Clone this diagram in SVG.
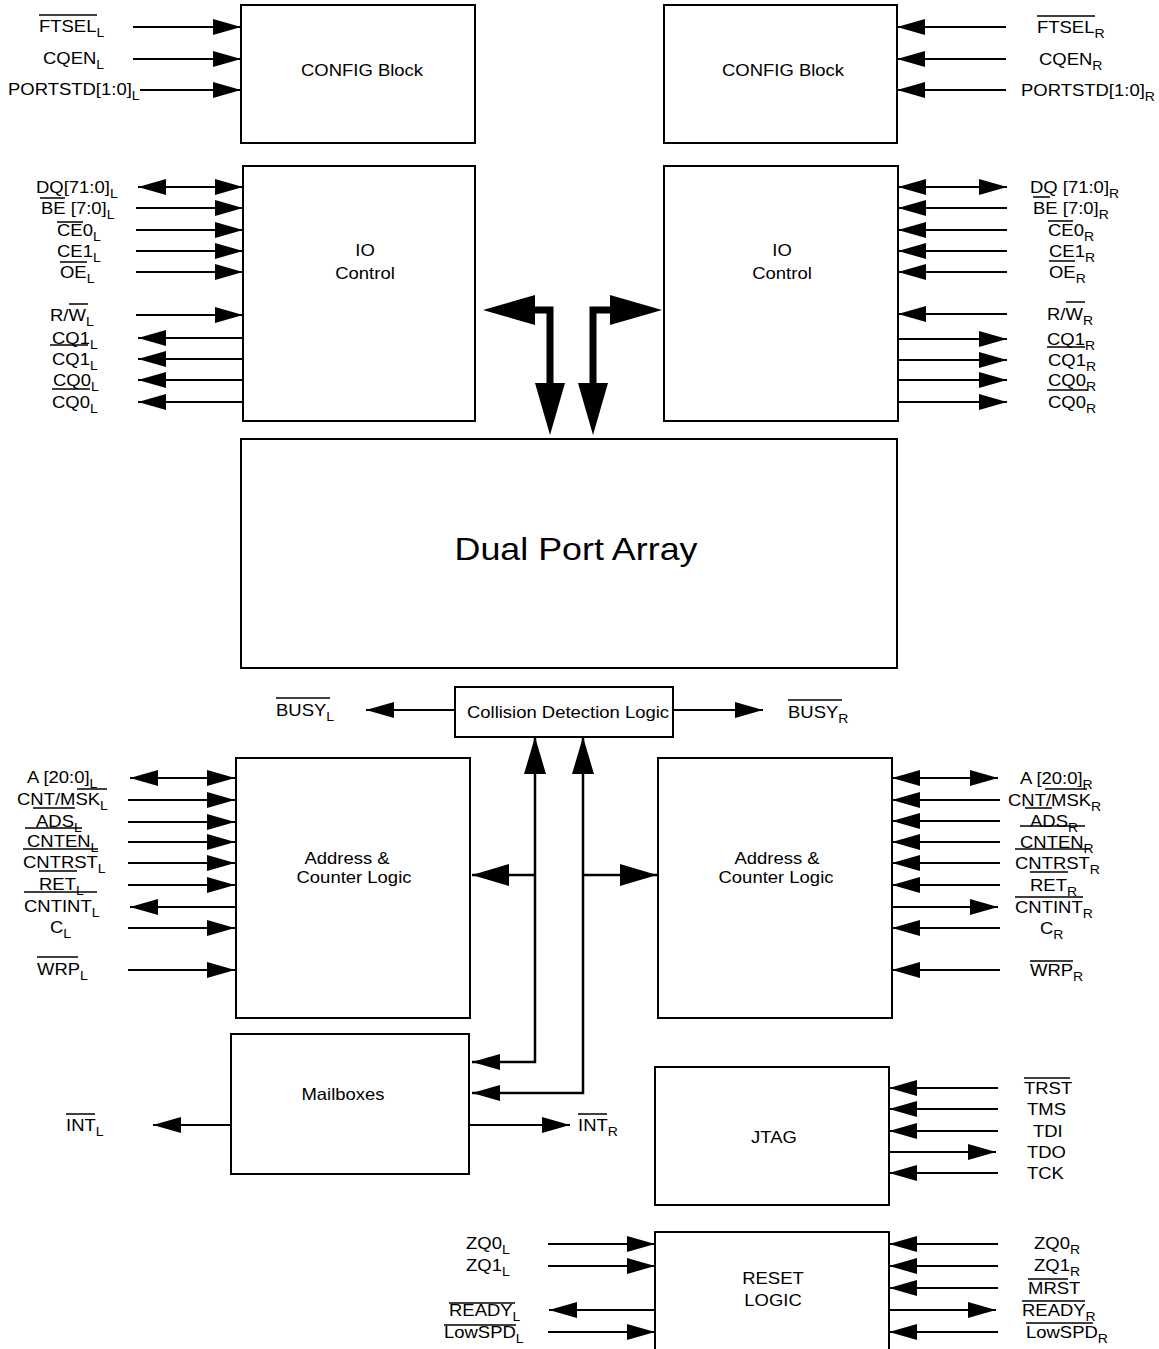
<svg xmlns="http://www.w3.org/2000/svg" width="1159" height="1349" viewBox="0 0 1159 1349">
<style>
.bx{fill:#fff;stroke:#000;stroke-width:2}
.w{fill:none;stroke:#000;stroke-width:2}
.ww{fill:none;stroke:#000;stroke-width:2.5}
.bus{fill:none;stroke:#000;stroke-width:7;stroke-linejoin:miter}
.ob{stroke:#000;stroke-width:1.5}
text{font-family:"Liberation Sans",Arial,Helvetica,sans-serif;font-size:16.5px;fill:#000}
.c{text-anchor:middle}
.s{font-size:12.5px}
.big{font-size:32px}
</style>
<defs>
<marker id="a" markerUnits="userSpaceOnUse" markerWidth="28" markerHeight="16" refX="28" refY="8" orient="auto-start-reverse"><path d="M0,0 L28,8 L0,16 Z"/></marker>
<marker id="m" markerUnits="userSpaceOnUse" markerWidth="37" markerHeight="22" refX="37" refY="11" orient="auto-start-reverse"><path d="M0,0 L37,11 L0,22 Z"/></marker>
<marker id="b" markerUnits="userSpaceOnUse" markerWidth="52" markerHeight="30" refX="0" refY="15" orient="auto-start-reverse"><path d="M0,0 L52,15 L0,30 Z"/></marker>
</defs>
<rect width="1159" height="1349" fill="#fff"/>

<g id="connectors">
<path class="w" marker-end="url(#a)" d="M133,27 H241"/>
<path class="w" marker-end="url(#a)" d="M133,59 H241"/>
<path class="w" marker-end="url(#a)" d="M140,90 H241"/>
<path class="w" marker-end="url(#a)" d="M1006,27 H897"/>
<path class="w" marker-end="url(#a)" d="M1006,59 H897"/>
<path class="w" marker-end="url(#a)" d="M1006,90 H897"/>
<path class="w" marker-start="url(#a)" marker-end="url(#a)" d="M138,187 H243"/>
<path class="w" marker-end="url(#a)" d="M136,208 H243"/>
<path class="w" marker-end="url(#a)" d="M136,230 H243"/>
<path class="w" marker-end="url(#a)" d="M136,251 H243"/>
<path class="w" marker-end="url(#a)" d="M136,272 H243"/>
<path class="w" marker-end="url(#a)" d="M136,315 H243"/>
<path class="w" marker-end="url(#a)" d="M243,338 H138"/>
<path class="w" marker-end="url(#a)" d="M243,359 H138"/>
<path class="w" marker-end="url(#a)" d="M243,380 H138"/>
<path class="w" marker-end="url(#a)" d="M243,402 H138"/>
<path class="w" marker-start="url(#a)" marker-end="url(#a)" d="M898,187 H1007"/>
<path class="w" marker-end="url(#a)" d="M1007,208 H898"/>
<path class="w" marker-end="url(#a)" d="M1007,230 H898"/>
<path class="w" marker-end="url(#a)" d="M1007,251 H898"/>
<path class="w" marker-end="url(#a)" d="M1007,272 H898"/>
<path class="w" marker-end="url(#a)" d="M1007,314 H898"/>
<path class="w" marker-end="url(#a)" d="M898,339 H1007"/>
<path class="w" marker-end="url(#a)" d="M898,360 H1007"/>
<path class="w" marker-end="url(#a)" d="M898,380 H1007"/>
<path class="w" marker-end="url(#a)" d="M898,402 H1007"/>
<path class="bus" marker-start="url(#b)" marker-end="url(#b)" d="M535,310 H550 V383"/>
<path class="bus" marker-start="url(#b)" marker-end="url(#b)" d="M610,310 H593 V383"/>
<path class="w" marker-end="url(#a)" d="M455,710 H366"/>
<path class="w" marker-end="url(#a)" d="M673,710 H763"/>
<path class="ww" marker-start="url(#a)" marker-end="url(#m)" d="M472,1062 H535 V737"/>
<path class="ww" marker-end="url(#m)" d="M535,875 H472"/>
<path class="ww" marker-start="url(#a)" marker-end="url(#m)" d="M472,1093 H583 V737"/>
<path class="ww" marker-end="url(#m)" d="M583,875 H657"/>
<path class="w" marker-start="url(#a)" marker-end="url(#a)" d="M130,778 H235"/>
<path class="w" marker-end="url(#a)" d="M128,800 H235"/>
<path class="w" marker-end="url(#a)" d="M128,822 H235"/>
<path class="w" marker-end="url(#a)" d="M128,842 H235"/>
<path class="w" marker-end="url(#a)" d="M128,863 H235"/>
<path class="w" marker-end="url(#a)" d="M128,885 H235"/>
<path class="w" marker-end="url(#a)" d="M235,907 H130"/>
<path class="w" marker-end="url(#a)" d="M128,928 H235"/>
<path class="w" marker-end="url(#a)" d="M128,970 H235"/>
<path class="w" marker-start="url(#a)" marker-end="url(#a)" d="M892,778 H998"/>
<path class="w" marker-end="url(#a)" d="M1000,800 H892"/>
<path class="w" marker-end="url(#a)" d="M1000,821 H892"/>
<path class="w" marker-end="url(#a)" d="M1000,842 H892"/>
<path class="w" marker-end="url(#a)" d="M1000,863 H892"/>
<path class="w" marker-end="url(#a)" d="M1000,885 H892"/>
<path class="w" marker-end="url(#a)" d="M892,907 H998"/>
<path class="w" marker-end="url(#a)" d="M1000,928 H892"/>
<path class="w" marker-end="url(#a)" d="M1000,970 H892"/>
<path class="w" marker-end="url(#a)" d="M231,1125 H153"/>
<path class="w" marker-end="url(#a)" d="M469,1125 H570"/>
<path class="w" marker-end="url(#a)" d="M998,1088 H889"/>
<path class="w" marker-end="url(#a)" d="M998,1109 H889"/>
<path class="w" marker-end="url(#a)" d="M998,1131 H889"/>
<path class="w" marker-end="url(#a)" d="M889,1152 H996"/>
<path class="w" marker-end="url(#a)" d="M998,1173 H889"/>
<path class="w" marker-end="url(#a)" d="M548,1244 H655"/>
<path class="w" marker-end="url(#a)" d="M548,1266 H655"/>
<path class="w" marker-end="url(#a)" d="M655,1310 H549"/>
<path class="w" marker-end="url(#a)" d="M548,1332 H655"/>
<path class="w" marker-end="url(#a)" d="M998,1244 H889"/>
<path class="w" marker-end="url(#a)" d="M998,1266 H889"/>
<path class="w" marker-end="url(#a)" d="M998,1288 H889"/>
<path class="w" marker-end="url(#a)" d="M889,1310 H996"/>
<path class="w" marker-end="url(#a)" d="M998,1332 H889"/>
</g>

<g id="config-left"><rect class="bx" x="241" y="5" width="234" height="138"/><text class="c" transform="matrix(1.12 0 0 1 362 76)">CONFIG Block</text></g>
<g id="config-right"><rect class="bx" x="664" y="5" width="233" height="138"/><text class="c" transform="matrix(1.12 0 0 1 783 76)">CONFIG Block</text></g>
<g id="io-left"><rect class="bx" x="243" y="166" width="232" height="255"/><text class="c" transform="matrix(1.12 0 0 1 365 256)">IO</text><text class="c" transform="matrix(1.12 0 0 1 365 279)">Control</text></g>
<g id="io-right"><rect class="bx" x="664" y="166" width="234" height="255"/><text class="c" transform="matrix(1.12 0 0 1 782 256)">IO</text><text class="c" transform="matrix(1.12 0 0 1 782 279)">Control</text></g>
<g id="dual-port-array"><rect class="bx" x="241" y="439" width="656" height="229"/><text class="c big" transform="matrix(1.12 0 0 1 576 560)">Dual Port Array</text></g>
<g id="collision"><rect class="bx" x="455" y="687" width="218" height="50"/><text class="c" transform="matrix(1.12 0 0 1 568 718)">Collision Detection Logic</text></g>
<g id="address-left"><rect class="bx" x="236" y="758" width="234" height="260"/><text class="c" transform="matrix(1.12 0 0 1 347 864)">Address &amp;</text><text class="c" transform="matrix(1.12 0 0 1 354 883)">Counter Logic</text></g>
<g id="address-right"><rect class="bx" x="658" y="758" width="234" height="260"/><text class="c" transform="matrix(1.12 0 0 1 777 864)">Address &amp;</text><text class="c" transform="matrix(1.12 0 0 1 776 883)">Counter Logic</text></g>
<g id="mailboxes"><rect class="bx" x="231" y="1034" width="238" height="140"/><text class="c" transform="matrix(1.12 0 0 1 343 1100)">Mailboxes</text></g>
<g id="jtag"><rect class="bx" x="655" y="1067" width="234" height="138"/><text class="c" transform="matrix(1.12 0 0 1 774 1143)">JTAG</text></g>
<g id="reset-logic"><path class="w" d="M655,1352 V1232 H889 V1352"/><text class="c" transform="matrix(1.12 0 0 1 773 1284)">RESET</text><text class="c" transform="matrix(1.12 0 0 1 773 1306)">LOGIC</text></g>

<g id="pin-labels">
<text transform="matrix(1.12 0 0 1 39 32)">FTSEL<tspan class="s" dy="4.5">L</tspan></text>
<text transform="matrix(1.12 0 0 1 43 64)">CQEN<tspan class="s" dy="4.5">L</tspan></text>
<text transform="matrix(1.12 0 0 1 8 95)">PORTSTD[1:0]<tspan class="s" dy="4.5">L</tspan></text>
<text transform="matrix(1.12 0 0 1 1037 33)">FTSEL<tspan class="s" dy="4.5">R</tspan></text>
<text transform="matrix(1.12 0 0 1 1039 65)">CQEN<tspan class="s" dy="4.5">R</tspan></text>
<text transform="matrix(1.12 0 0 1 1021 96)">PORTSTD[1:0]<tspan class="s" dy="4.5">R</tspan></text>

<text transform="matrix(1.12 0 0 1 36 193)">DQ[71:0]<tspan class="s" dy="4.5">L</tspan></text>
<text transform="matrix(1.12 0 0 1 41 214)">BE [7:0]<tspan class="s" dy="4.5">L</tspan></text>
<text transform="matrix(1.12 0 0 1 57 236)">CE0<tspan class="s" dy="4.5">L</tspan></text>
<text transform="matrix(1.12 0 0 1 57 257)">CE1<tspan class="s" dy="4.5">L</tspan></text>
<text transform="matrix(1.12 0 0 1 60 278)">OE<tspan class="s" dy="4.5">L</tspan></text>
<text transform="matrix(1.12 0 0 1 50 321)">R/W<tspan class="s" dy="4.5">L</tspan></text>
<text transform="matrix(1.12 0 0 1 52 344)">CQ1<tspan class="s" dy="4.5">L</tspan></text>
<text transform="matrix(1.12 0 0 1 52 365)">CQ1<tspan class="s" dy="4.5">L</tspan></text>
<text transform="matrix(1.12 0 0 1 53 386)">CQ0<tspan class="s" dy="4.5">L</tspan></text>
<text transform="matrix(1.12 0 0 1 52 408)">CQ0<tspan class="s" dy="4.5">L</tspan></text>

<text transform="matrix(1.12 0 0 1 1030 193)">DQ [71:0]<tspan class="s" dy="4.5">R</tspan></text>
<text transform="matrix(1.12 0 0 1 1033 214)">BE [7:0]<tspan class="s" dy="4.5">R</tspan></text>
<text transform="matrix(1.12 0 0 1 1048 236)">CE0<tspan class="s" dy="4.5">R</tspan></text>
<text transform="matrix(1.12 0 0 1 1049 257)">CE1<tspan class="s" dy="4.5">R</tspan></text>
<text transform="matrix(1.12 0 0 1 1049 278)">OE<tspan class="s" dy="4.5">R</tspan></text>
<text transform="matrix(1.12 0 0 1 1047 320)">R/W<tspan class="s" dy="4.5">R</tspan></text>
<text transform="matrix(1.12 0 0 1 1047 345)">CQ1<tspan class="s" dy="4.5">R</tspan></text>
<text transform="matrix(1.12 0 0 1 1048 366)">CQ1<tspan class="s" dy="4.5">R</tspan></text>
<text transform="matrix(1.12 0 0 1 1048 386)">CQ0<tspan class="s" dy="4.5">R</tspan></text>
<text transform="matrix(1.12 0 0 1 1048 408)">CQ0<tspan class="s" dy="4.5">R</tspan></text>

<text transform="matrix(1.12 0 0 1 276 716)">BUSY<tspan class="s" dy="4.5">L</tspan></text>
<text transform="matrix(1.12 0 0 1 788 718)">BUSY<tspan class="s" dy="4.5">R</tspan></text>

<text transform="matrix(1.12 0 0 1 27 783)">A [20:0]<tspan class="s" dy="4.5">L</tspan></text>
<text transform="matrix(1.12 0 0 1 17 805)">CNT/MSK<tspan class="s" dy="4.5">L</tspan></text>
<text transform="matrix(1.12 0 0 1 36 827)">ADS<tspan class="s" dy="4.5">L</tspan></text>
<text transform="matrix(1.12 0 0 1 27 847)">CNTEN<tspan class="s" dy="4.5">L</tspan></text>
<text transform="matrix(1.12 0 0 1 23 868)">CNTRST<tspan class="s" dy="4.5">L</tspan></text>
<text transform="matrix(1.12 0 0 1 39 890)">RET<tspan class="s" dy="4.5">L</tspan></text>
<text transform="matrix(1.12 0 0 1 24 912)">CNTINT<tspan class="s" dy="4.5">L</tspan></text>
<text transform="matrix(1.12 0 0 1 50 933)">C<tspan class="s" dy="4.5">L</tspan></text>
<text transform="matrix(1.12 0 0 1 37 975)">WRP<tspan class="s" dy="4.5">L</tspan></text>

<text transform="matrix(1.12 0 0 1 1020 784)">A [20:0]<tspan class="s" dy="4.5">R</tspan></text>
<text transform="matrix(1.12 0 0 1 1008 806)">CNT/MSK<tspan class="s" dy="4.5">R</tspan></text>
<text transform="matrix(1.12 0 0 1 1030 827)">ADS<tspan class="s" dy="4.5">R</tspan></text>
<text transform="matrix(1.12 0 0 1 1020 848)">CNTEN<tspan class="s" dy="4.5">R</tspan></text>
<text transform="matrix(1.12 0 0 1 1015 869)">CNTRST<tspan class="s" dy="4.5">R</tspan></text>
<text transform="matrix(1.12 0 0 1 1030 891)">RET<tspan class="s" dy="4.5">R</tspan></text>
<text transform="matrix(1.12 0 0 1 1015 913)">CNTINT<tspan class="s" dy="4.5">R</tspan></text>
<text transform="matrix(1.12 0 0 1 1040 934)">C<tspan class="s" dy="4.5">R</tspan></text>
<text transform="matrix(1.12 0 0 1 1030 976)">WRP<tspan class="s" dy="4.5">R</tspan></text>

<text transform="matrix(1.12 0 0 1 66 1131)">INT<tspan class="s" dy="4.5">L</tspan></text>
<text transform="matrix(1.12 0 0 1 578 1131)">INT<tspan class="s" dy="4.5">R</tspan></text>

<text transform="matrix(1.12 0 0 1 1024 1094)">TRST</text>
<text transform="matrix(1.12 0 0 1 1027 1115)">TMS</text>
<text transform="matrix(1.12 0 0 1 1033 1137)">TDI</text>
<text transform="matrix(1.12 0 0 1 1027 1158)">TDO</text>
<text transform="matrix(1.12 0 0 1 1027 1179)">TCK</text>

<text transform="matrix(1.12 0 0 1 466 1249)">ZQ0<tspan class="s" dy="4.5">L</tspan></text>
<text transform="matrix(1.12 0 0 1 466 1271)">ZQ1<tspan class="s" dy="4.5">L</tspan></text>
<text transform="matrix(1.12 0 0 1 449 1316)">READY<tspan class="s" dy="4.5">L</tspan></text>
<text transform="matrix(1.12 0 0 1 444 1338)">LowSPD<tspan class="s" dy="4.5">L</tspan></text>
<text transform="matrix(1.12 0 0 1 1034 1249)">ZQ0<tspan class="s" dy="4.5">R</tspan></text>
<text transform="matrix(1.12 0 0 1 1034 1271)">ZQ1<tspan class="s" dy="4.5">R</tspan></text>
<text transform="matrix(1.12 0 0 1 1028 1294)">MRST</text>
<text transform="matrix(1.12 0 0 1 1022 1316)">READY<tspan class="s" dy="4.5">R</tspan></text>
<text transform="matrix(1.12 0 0 1 1026 1338)">LowSPD<tspan class="s" dy="4.5">R</tspan></text>
</g>

<g id="overbars">
<path class="ob" d="M39,15 H97 M1037,16 H1095
M40,198 H65 M57,222 H83 M60,262 H87 M69,304 H88 M50,345 H88 M52,389 H90
M1033,197 H1050 M1048,221 H1073 M1049,261 H1075 M1066,302 H1085 M1047,347 H1085 M1047,390 H1088
M276,698 H330 M788,700 H842
M77,789 H107 M33,808 H75 M25,828 H82 M23,849 H98 M39,871 H77 M24,892 H97 M37,957 H78
M1045,789 H1087 M1025,808 H1052 M1020,826 H1085 M1015,849 H1090 M1030,872 H1068 M1015,897 H1083 M1030,961 H1073
M66,1114 H95 M578,1114 H607
M1024,1078 H1070
M449,1303 H515 M444,1325 H516
M1028,1279 H1068 M1022,1301 H1085 M1026,1323 H1093"/>
</g>
</svg>
